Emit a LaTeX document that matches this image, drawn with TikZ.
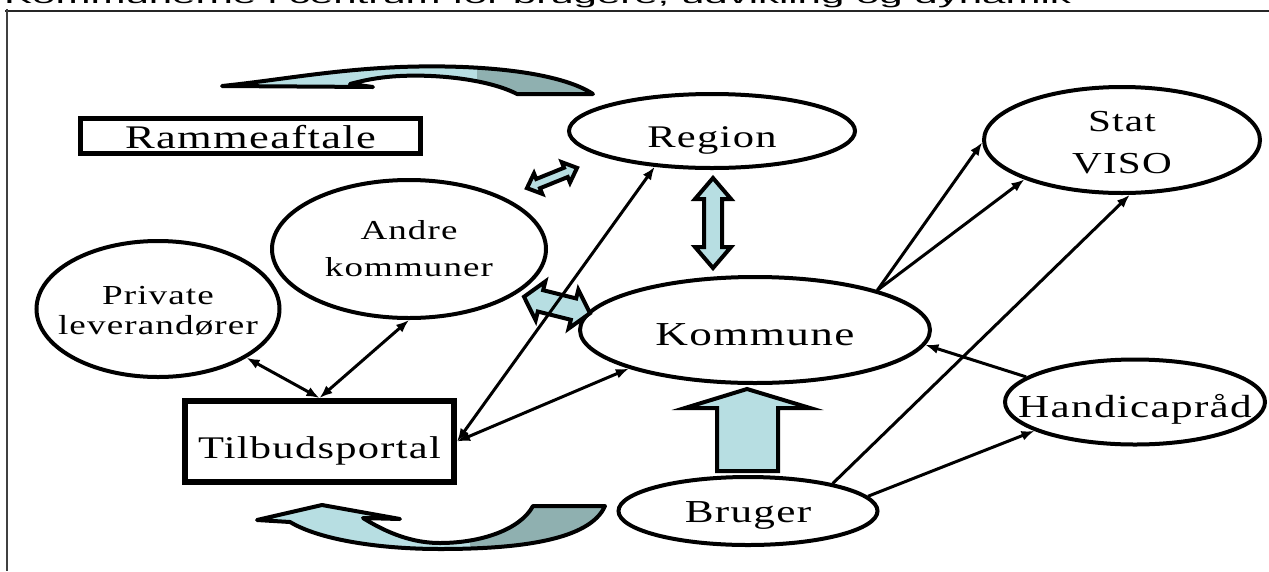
\documentclass[tikz,border=0pt]{standalone}
\usepackage{fontspec}
\setmainfont{Liberation Serif}
\newfontfamily\spacedfont[LetterSpace=3]{Liberation Serif}
\newfontfamily\titlefont{Liberation Sans}
\usetikzlibrary{shapes.geometric,arrows.meta}
\definecolor{lightblk}{HTML}{B7DEE2}
\definecolor{darkblk}{HTML}{8FB0B0}
\newcommand{\fsz}[2]{\fontsize{#1}{#2}\selectfont}
\newcommand{\wt}[1]{\scalebox{1.35}[1]{#1}}
\tikzset{
  oval/.style={ellipse, draw, line width=4pt, inner sep=0pt, fill=white},
  boxnode/.style={rectangle, draw, line width=5pt, inner sep=0pt, fill=white},
  lbl/.style={align=center, inner sep=0pt},
  conn/.style={line width=3pt, {Latex[length=13pt,width=10pt]}-{Latex[length=13pt,width=10pt]}},
  oneway/.style={line width=3pt, -{Latex[length=13pt,width=10pt]}},
  blockarrow/.style={fill=lightblk, draw=black, line width=4pt, line join=miter},
  curvedline/.style={draw=black, line width=4pt, line join=round},
}
\newcommand{\dblblock}[7]{%
  \begin{scope}[shift={(#1,#2)},rotate=#3]
    \path[blockarrow] (-#4,0) -- (-#4+#7,#6) -- (-#4+#7,#5) -- (#4-#7,#5) -- (#4-#7,#6) -- (#4,0)
      -- (#4-#7,-#6) -- (#4-#7,-#5) -- (-#4+#7,-#5) -- (-#4+#7,-#6) -- cycle;
  \end{scope}}
\newcommand{\toparrow}[1]{%
  \path[#1] (222,86) .. controls (280,80) and (330,70) .. (400,67)
    .. controls (480,64) and (560,72) .. (593,94) -- (517,94)
    .. controls (490,80) and (440,74) .. (400,76)
    .. controls (380,77) and (365,80) .. (350,84) -- (373,87) -- cycle;}
\newcommand{\bottomarrow}[1]{%
  \path[#1] (257,520) -- (322,505) -- (400,519) -- (363,518)
    .. controls (395,538) and (420,543) .. (440,543)
    .. controls (480,543) and (520,530) .. (533,506) -- (605,506)
    .. controls (590,540) and (520,549) .. (440,549)
    .. controls (380,549) and (320,540) .. (290,522) -- cycle;}
\begin{document}
\begin{tikzpicture}[x=1pt,y=-1pt]
\useasboundingbox (0,0) rectangle (1269,571);
\fill[white] (0,0) rectangle (1269,571);
% title (cut off at the top, as in the reference)
\node[anchor=base west, inner sep=0pt, font=\titlefont\fsz{42}{42}] (title) at (4,3.5)
  {\scalebox{1}[0.5]{Kommunerne i centrum for brugere, udvikling og dynamik}};
\draw[line width=2pt, black!85] (5,11) -- (1269,11);
\draw[line width=1.5pt, black!75] (7,9) -- (7,571);

% curved arrows
\toparrow{fill=lightblk}
\begin{scope}
  \clip (477,0) rectangle (700,200);
  \toparrow{fill=darkblk}
\end{scope}
\toparrow{curvedline}
\bottomarrow{fill=lightblk}
\begin{scope}
  \clip (470,400) rectangle (700,571);
  \bottomarrow{fill=darkblk}
\end{scope}
\bottomarrow{curvedline}

% nodes
\node[boxnode, minimum width=340pt, minimum height=35pt,
  label={[lbl, yshift=-1pt, font=\spacedfont\fsz{33}{36}]center:\wt{Rammeaftale}}] (ramme) at (250.5,136) {};
\node[boxnode, line width=6pt, minimum width=269pt, minimum height=81pt,
  label={[lbl, yshift=-9pt, font=\spacedfont\fsz{31.5}{36}]center:\wt{Tilbudsportal}}] (tilbud) at (319.5,441.5) {};
\node[oval, minimum width=286pt, minimum height=74pt,
  label={[lbl, yshift=-9.5pt, font=\spacedfont\fsz{31.5}{36}]center:\wt{Region}}] (region) at (712,131) {};
\node[oval, minimum width=276pt, minimum height=106pt,
  label={[lbl, yshift=-3pt, font=\spacedfont\fsz{30.5}{42}]center:\wt{Stat}\\\wt{VISO}}] (stat) at (1122,140) {};
\node[oval, minimum width=274pt, minimum height=138pt,
  label={[lbl, font=\spacedfont\fsz{27.4}{37}]center:\wt{Andre}\\\wt{kommuner}}] (andre) at (409,249) {};
\node[oval, minimum width=243pt, minimum height=136pt,
  label={[lbl, yshift=-2pt, font=\spacedfont\fsz{27.5}{30}]center:\wt{Private}\\\wt{leverandører}}] (private) at (158,309) {};
\node[oval, minimum width=350pt, minimum height=106pt,
  label={[lbl, yshift=-5pt, font=\spacedfont\fsz{33.5}{38}]center:\wt{Kommune}}] (kommune) at (755,330) {};
\node[oval, minimum width=260pt, minimum height=85pt,
  label={[lbl, yshift=-7pt, font=\spacedfont\fsz{32}{36}]center:\wt{Handicapråd}}] (handicap) at (1135,402) {};
\node[oval, minimum width=259pt, minimum height=68pt,
  label={[lbl, yshift=-4pt, font=\spacedfont\fsz{32}{36}]center:\wt{Bruger}}] (bruger) at (748,511) {};

% block arrows
\dblblock{713}{223}{90}{45}{9}{18}{21}
\dblblock{552}{178}{22}{27}{5}{11}{12}
\dblblock{557}{305}{-14}{34}{11}{20}{17}
\path[blockarrow] (747,389) -- (810,408) -- (778,408) -- (778,471) -- (717,471) -- (717,408) -- (685,408) -- cycle;

% connectors
\draw[conn] (private) -- (tilbud.north);
\draw[conn] (andre.south) -- (tilbud.north);
\draw[conn] (tilbud.east) -- (region.212);
\draw[conn] (tilbud.east) -- (kommune.197);
\draw[oneway] (kommune.18) -- (stat.181);
\draw[oneway] (kommune.18) -- (stat.202);
\draw[oneway] (bruger.18) -- (stat.278);
\draw[oneway] (bruger.7) -- (handicap.196);
\draw[oneway] (handicap.167) -- (kommune.-5);
\end{tikzpicture}
\end{document}
